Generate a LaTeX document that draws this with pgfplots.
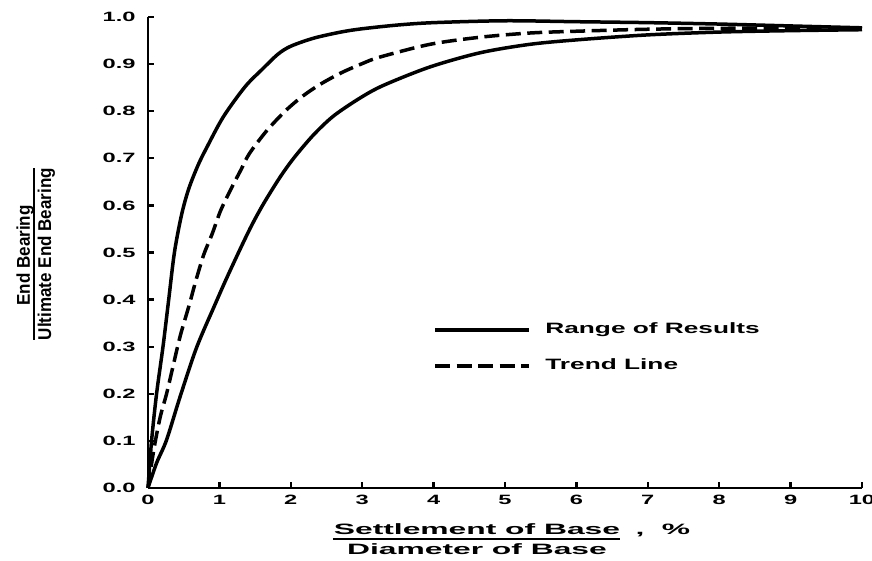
\documentclass[border=0pt]{standalone}
\usepackage{fontspec}
\usepackage{pgfplots}
\pgfplotsset{compat=1.18}
\setmainfont{Liberation Sans}
\newfontfamily\tickf[FakeStretch=1.75]{Liberation Sans}
\newfontfamily\legf[FakeStretch=1.75]{Liberation Sans}
\newfontfamily\axf[FakeStretch=2.12]{Liberation Sans}
\newfontfamily\ylf[FakeStretch=0.92]{Liberation Sans}
\begin{document}
\begin{tikzpicture}
\begin{axis}[
  at={(0,0)}, anchor=south west,
  scale only axis, width=285.6pt, height=188.4pt,
  xmin=0, xmax=10, ymin=0, ymax=1,
  axis lines=left,
  axis line style={-, line width=1pt},
  xtick={0,1,2,3,4,5,6,7,8,9,10},
  ytick={0,0.1,0.2,0.3,0.4,0.5,0.6,0.7,0.8,0.9,1},
  tick align=inside, major tick length=2.4pt,
  tick style={line width=0.9pt, black},
  /pgf/number format/assume math mode=true,
  ticklabel style={font=\tickf\bfseries\fontsize{5.4}{6.4}\selectfont, inner sep=0pt},
  yticklabel style={anchor=east, xshift=-4.8pt, /pgf/number format/.cd, fixed, fixed zerofill, precision=1},
  xticklabel style={anchor=north, yshift=-2.6pt},
  clip=false,
  legend style={draw=none, fill=none, at={(0.399,0.297)}, anchor=west, inner sep=0pt,
    font=\legf\bfseries\fontsize{6}{7}\selectfont, row sep=8.6pt, column sep=0pt,
    nodes={inner sep=0pt}},
  legend cell align=left,
  legend image code/.code={\draw[#1] (0pt,0pt) -- (37.6pt,0pt) node[right=4.8pt] {};},
]
% upper bound of range
\addplot[line width=1.4pt, smooth, tension=0.5] coordinates {
(0,0) (0.05,0.1) (0.12,0.2) (0.21,0.3) (0.29,0.4) (0.37,0.5) (0.47,0.58)
(0.57,0.635) (0.7,0.685) (0.82,0.722) (1.055,0.788) (1.36,0.852) (1.6,0.889)
(1.82,0.921) (2.0,0.938) (2.32,0.955) (2.7,0.968) (3.0,0.975) (3.5,0.983)
(4,0.988) (5,0.992) (6,0.99) (7,0.988) (8,0.985) (9,0.981) (10,0.977)};
% lower bound of range
\addplot[line width=1.4pt, smooth, tension=0.5, forget plot] coordinates {
(0,0) (0.12,0.053) (0.26,0.102) (0.45,0.194) (0.68,0.298) (0.94,0.39) (1.1,0.445)
(1.29,0.507) (1.45,0.557) (1.62,0.604) (1.85,0.66) (2.05,0.702) (2.32,0.75)
(2.6,0.79) (2.97,0.828) (3.3,0.855) (3.95,0.894) (4.65,0.924) (5.35,0.942)
(6.05,0.952) (7,0.962) (8,0.968) (9,0.971) (10,0.973)};
% trend line
\addplot[line width=1.4pt, dash pattern=on 6pt off 2.6pt, smooth, tension=0.5] coordinates {
(0,0) (0.08,0.08) (0.17,0.15) (0.26,0.2) (0.35,0.258) (0.45,0.322) (0.58,0.39)
(0.67,0.44) (0.78,0.495) (0.9,0.54) (1.02,0.59) (1.18,0.64) (1.3,0.675)
(1.42,0.71) (1.66,0.758) (1.92,0.8) (2.15,0.83) (2.4,0.856) (2.7,0.881)
(3.0,0.901) (3.25,0.915) (3.95,0.942) (4.65,0.957) (5.35,0.966) (6.05,0.97)
(7,0.974) (8,0.976) (9,0.976) (10,0.975)};
\legend{Range of Results, Trend Line}
\end{axis}
% y label (fraction)
\node[rotate=90, anchor=base, inner sep=0pt, font=\ylf\bfseries\fontsize{7.4}{8.4}\selectfont] at (-47.2pt,93pt) {End Bearing};
\draw[line width=0.6pt] (-45.6pt,59.2pt) -- (-45.6pt,128pt);
\node[rotate=90, anchor=base, inner sep=0pt, font=\ylf\bfseries\fontsize{7.4}{8.4}\selectfont] at (-38.8pt,93.6pt) {Ultimate End Bearing};
% x label (fraction)
\node[anchor=base, inner sep=0pt, font=\axf\bfseries\fontsize{6}{7}\selectfont] at (131.6pt,-18.8pt) {Settlement of Base};
\draw[line width=0.6pt] (74pt,-20.4pt) -- (188.8pt,-20.4pt);
\node[anchor=base, inner sep=0pt, font=\axf\bfseries\fontsize{6}{7}\selectfont] at (131.6pt,-26.8pt) {Diameter of Base};
\node[anchor=base west, inner sep=0pt, font=\axf\bfseries\fontsize{6}{7}\selectfont] at (194.8pt,-18.8pt) {,\hspace{7pt}\%};
\pgfresetboundingbox
\path (-59.2pt,-29.2pt) rectangle (289.6pt,195.2pt);
\end{tikzpicture}
\end{document}
